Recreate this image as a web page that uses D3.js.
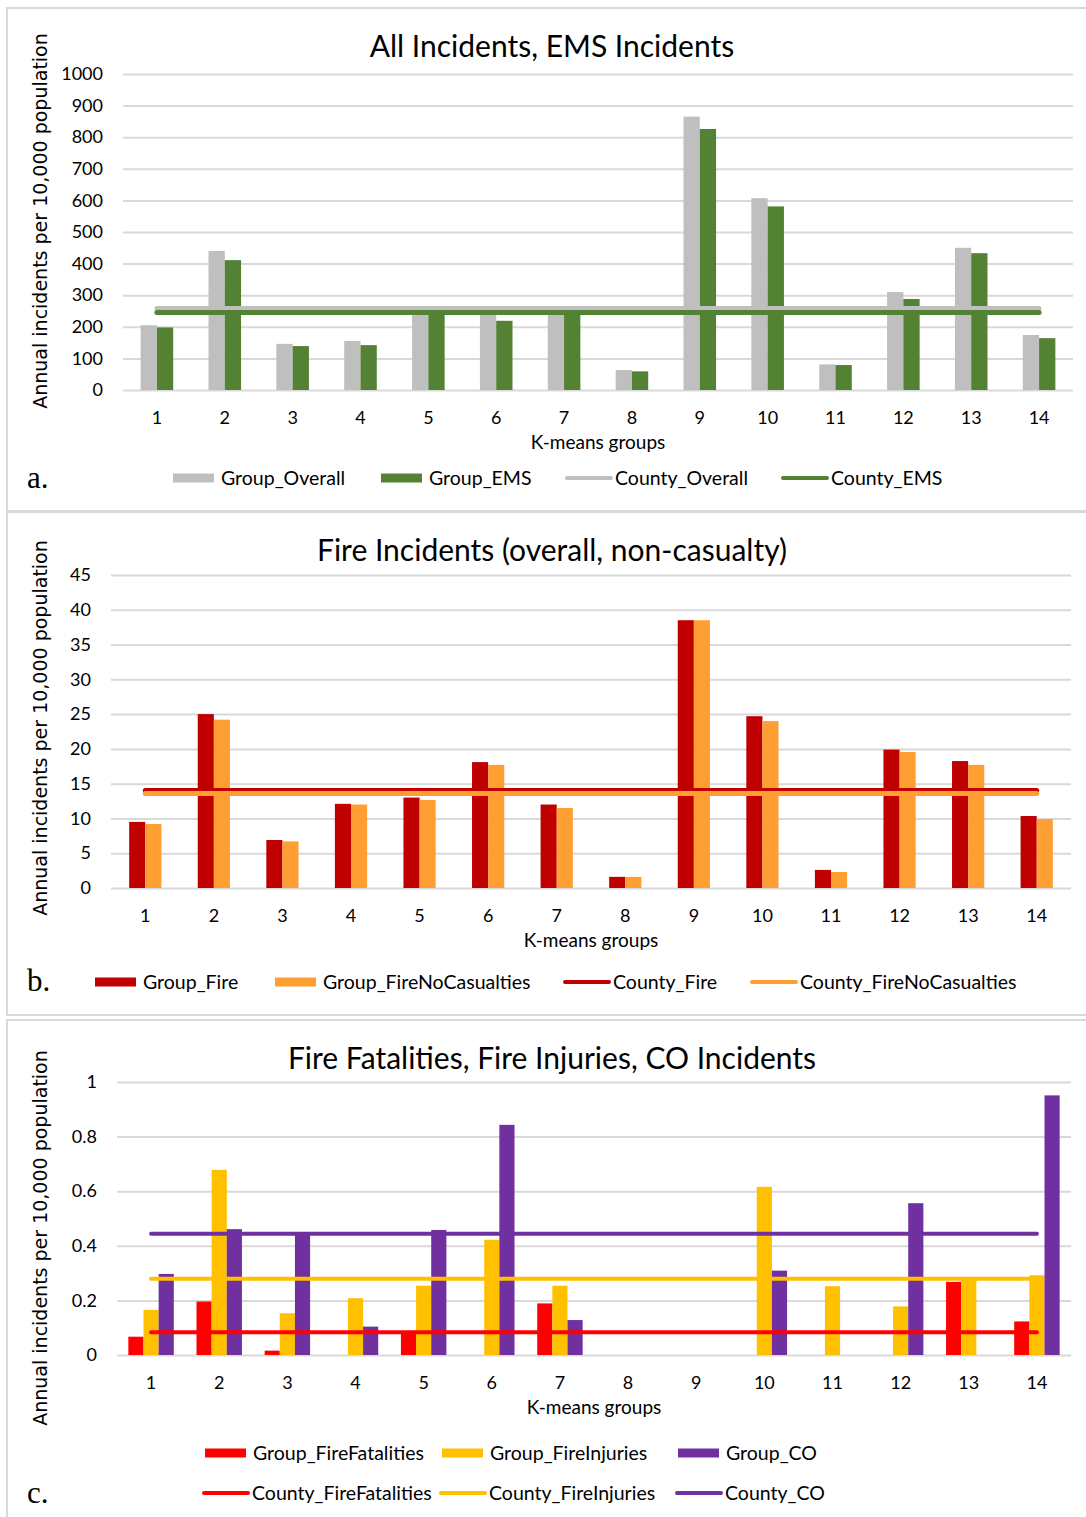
<!DOCTYPE html>
<html>
<head>
<meta charset="utf-8">
<script src="https://cdn.jsdelivr.net/npm/d3@7"></script>
<style>
  body { margin: 0; background: #fff; }
  svg text { font-family: Lato, "Open Sans", sans-serif; fill: #000; }
</style>
</head>
<body>
<div id="chart"></div>
<script>
// K-means groups (x categories, shared by all three panels)
var groups = ["1", "2", "3", "4", "5", "6", "7", "8", "9", "10", "11", "12", "13", "14"];

// Panel a: all incidents / EMS incidents
var groupOverall = [205, 440, 146, 155, 252, 250, 250, 63, 865, 607, 81, 310, 450, 174];
var groupEMS = [198, 411, 139, 142, 245, 219, 245, 59, 826, 581, 79, 288, 433, 164];
var countyOverall = 258;
var countyEMS = 245;
var ticksA = [0, 100, 200, 300, 400, 500, 600, 700, 800, 900, 1000];

// Panel b: fire incidents
var groupFire = [9.5, 25.0, 6.9, 12.1, 13.0, 18.1, 12.0, 1.6, 38.5, 24.7, 2.6, 19.9, 18.25, 10.35];
var groupFireNoCasualties = [9.2, 24.2, 6.7, 12.0, 12.65, 17.7, 11.5, 1.6, 38.5, 24.0, 2.3, 19.55, 17.7, 9.9];
var countyFire = 14.0;
var countyFireNoCasualties = 13.6;
var ticksB = [0, 5, 10, 15, 20, 25, 30, 35, 40, 45];

// Panel c: fire fatalities, fire injuries, CO incidents
var groupFireFatalities = [0.067, 0.196, 0.016, 0, 0.085, 0, 0.189, 0, 0, 0, 0, 0, 0.268, 0.123];
var groupFireInjuries = [0.165, 0.678, 0.153, 0.208, 0.254, 0.422, 0.254, 0, 0, 0.616, 0.252, 0.178, 0.28, 0.292];
var groupCO = [0.297, 0.461, 0.44, 0.104, 0.458, 0.843, 0.128, 0, 0, 0.309, 0, 0.556, 0, 0.951];
var countyFireFatalities = 0.083;
var countyFireInjuries = 0.279;
var countyCO = 0.444;
var ticksC = [0, 0.2, 0.4, 0.6, 0.8, 1];

var svg = d3.select("#chart")
    .append("svg")
    .attr("width", 1086)
    .attr("height", 1517);

// draws one framed panel (bars + county lines + axes + legend)
function drawPanel(p) {
    var g = svg.append("g");

    // light grey frame around the panel
    g.append("rect")
        .attr("x", 7).attr("y", p.frameTop)
        .attr("width", 1100).attr("height", p.frameHeight)
        .attr("fill", "none")
        .attr("stroke", "#d9d9d9")
        .attr("stroke-width", 2);

    var x = d3.scaleBand()
        .domain(groups)
        .range([p.x0, p.x1])
        .paddingInner(p.pad)
        .paddingOuter(p.pad / 2);

    var xSub = d3.scaleBand()
        .domain(p.bars.map(d => d.name))
        .range([0, x.bandwidth()]);

    var y = d3.scaleLinear()
        .domain([0, p.ticks[p.ticks.length - 1]])
        .range([p.yBottom, p.yTop]);

    // y axis with gridlines
    var yAxis = g.append("g")
        .attr("transform", `translate(${p.x0}, 0)`)
        .call(d3.axisLeft(y)
            .tickValues(p.ticks)
            .tickFormat(d3.format("~g"))
            .tickSize(-(p.x1 - p.x0))
            .tickPadding(20));
    yAxis.select(".domain").remove();
    yAxis.selectAll(".tick line")
        .attr("stroke", "#d9d9d9")
        .attr("stroke-width", 2);
    yAxis.selectAll("text")
        .attr("font-size", "18px")
        .attr("font-family", "Lato, sans-serif");

    // x axis (category labels only)
    var xAxis = g.append("g")
        .attr("transform", `translate(0, ${p.yBottom})`)
        .call(d3.axisBottom(x).tickSize(0).tickPadding(21));
    xAxis.select(".domain").remove();
    xAxis.selectAll("text")
        .attr("font-size", "18px")
        .attr("font-family", "Lato, sans-serif");

    // bars
    p.bars.forEach(function (s) {
        g.append("g").selectAll("rect")
            .data(s.values.map((v, i) => ({ group: groups[i], value: v })))
            .enter()
            .append("rect")
            .attr("x", d => x(d.group) + xSub(s.name))
            .attr("y", d => y(d.value))
            .attr("width", xSub.bandwidth())
            .attr("height", d => y(0) - y(d.value))
            .attr("fill", s.color);
    });

    // county reference lines, from the first to the last group centre
    var xFirst = x(groups[0]) + x.bandwidth() / 2;
    var xLast = x(groups[groups.length - 1]) + x.bandwidth() / 2;
    p.lines.forEach(function (s) {
        g.append("line")
            .attr("x1", xFirst).attr("x2", xLast)
            .attr("y1", y(s.value)).attr("y2", y(s.value))
            .attr("stroke", s.color)
            .attr("stroke-width", p.lineWidth)
            .attr("stroke-linecap", "round");
    });

    // title
    g.append("text")
        .attr("x", 552).attr("y", p.titleY)
        .attr("text-anchor", "middle")
        .attr("font-size", "30px")
        .text(p.title);

    // axis titles
    g.append("text")
        .attr("x", (p.x0 + p.x1) / 2).attr("y", p.yBottom + 59)
        .attr("text-anchor", "middle")
        .attr("font-size", "19px")
        .text("K-means groups");

    g.append("text")
        .attr("transform", `translate(47, ${p.yTitleCenter}) rotate(-90)`)
        .attr("text-anchor", "middle")
        .style("font-family", "'DejaVu Sans', sans-serif")
        .attr("font-size", "19px")
        .text("Annual incidents per 10,000 population");

    // legend
    p.legend.forEach(function (item) {
        if (item.kind === "bar") {
            g.append("rect")
                .attr("x", item.x).attr("y", item.y - 4.5)
                .attr("width", 41).attr("height", 9)
                .attr("fill", item.color);
        } else {
            g.append("line")
                .attr("x1", item.x + 2).attr("x2", item.x + 46)
                .attr("y1", item.y).attr("y2", item.y)
                .attr("stroke", item.color)
                .attr("stroke-width", 4)
                .attr("stroke-linecap", "round");
        }
        g.append("text")
            .attr("x", item.x + (item.kind === "bar" ? 48 : 50))
            .attr("y", item.y)
            .attr("dy", "0.35em")
            .attr("font-size", "19.5px")
            .text(item.label);
    });

    // panel letter
    g.append("text")
        .attr("x", 27).attr("y", p.letterY)
        .attr("dy", "0.35em")
        .style("font-family", "'Liberation Serif', 'DejaVu Serif', serif")
        .attr("font-size", "31px")
        .text(p.letter);
}

drawPanel({
    frameTop: 8, frameHeight: 503,
    x0: 123, x1: 1073, yTop: 74, yBottom: 390, pad: 0.52,
    ticks: ticksA, lineWidth: 5,
    title: "All Incidents, EMS Incidents", titleY: 57, yTitleCenter: 221,
    letter: "a.", letterY: 477,
    bars: [
        { name: "Group_Overall", values: groupOverall, color: "#bfbfbf" },
        { name: "Group_EMS", values: groupEMS, color: "#548235" }
    ],
    lines: [
        { name: "County_Overall", value: countyOverall, color: "#bfbfbf" },
        { name: "County_EMS", value: countyEMS, color: "#548235" }
    ],
    legend: [
        { label: "Group_Overall", kind: "bar", color: "#bfbfbf", x: 173, y: 478 },
        { label: "Group_EMS", kind: "bar", color: "#548235", x: 381, y: 478 },
        { label: "County_Overall", kind: "line", color: "#bfbfbf", x: 565, y: 478 },
        { label: "County_EMS", kind: "line", color: "#548235", x: 781, y: 478 }
    ]
});

drawPanel({
    frameTop: 512, frameHeight: 503,
    x0: 111, x1: 1071, yTop: 575, yBottom: 888, pad: 0.53,
    ticks: ticksB, lineWidth: 5,
    title: "Fire Incidents (overall, non-casualty)", titleY: 561, yTitleCenter: 728,
    letter: "b.", letterY: 980,
    bars: [
        { name: "Group_Fire", values: groupFire, color: "#c00000" },
        { name: "Group_FireNoCasualties", values: groupFireNoCasualties, color: "#ff9f33" }
    ],
    lines: [
        { name: "County_Fire", value: countyFire, color: "#c00000" },
        { name: "County_FireNoCasualties", value: countyFireNoCasualties, color: "#ff9f33" }
    ],
    legend: [
        { label: "Group_Fire", kind: "bar", color: "#c00000", x: 95, y: 982 },
        { label: "Group_FireNoCasualties", kind: "bar", color: "#ff9f33", x: 275, y: 982 },
        { label: "County_Fire", kind: "line", color: "#c00000", x: 563, y: 982 },
        { label: "County_FireNoCasualties", kind: "line", color: "#ff9f33", x: 750, y: 982 }
    ]
});

drawPanel({
    frameTop: 1020, frameHeight: 510,
    x0: 117, x1: 1071, yTop: 1082, yBottom: 1355, pad: 0.333,
    ticks: ticksC, lineWidth: 4,
    title: "Fire Fatalities, Fire Injuries, CO Incidents", titleY: 1069, yTitleCenter: 1238,
    letter: "c.", letterY: 1492,
    bars: [
        { name: "Group_FireFatalities", values: groupFireFatalities, color: "#ff0000" },
        { name: "Group_FireInjuries", values: groupFireInjuries, color: "#ffc000" },
        { name: "Group_CO", values: groupCO, color: "#7030a0" }
    ],
    lines: [
        { name: "County_FireFatalities", value: countyFireFatalities, color: "#ff0000" },
        { name: "County_FireInjuries", value: countyFireInjuries, color: "#ffc000" },
        { name: "County_CO", value: countyCO, color: "#7030a0" }
    ],
    legend: [
        { label: "Group_FireFatalities", kind: "bar", color: "#ff0000", x: 205, y: 1453 },
        { label: "Group_FireInjuries", kind: "bar", color: "#ffc000", x: 442, y: 1453 },
        { label: "Group_CO", kind: "bar", color: "#7030a0", x: 678, y: 1453 },
        { label: "County_FireFatalities", kind: "line", color: "#ff0000", x: 202, y: 1493 },
        { label: "County_FireInjuries", kind: "line", color: "#ffc000", x: 439, y: 1493 },
        { label: "County_CO", kind: "line", color: "#7030a0", x: 675, y: 1493 }
    ]
});
</script>
</body>
</html>
